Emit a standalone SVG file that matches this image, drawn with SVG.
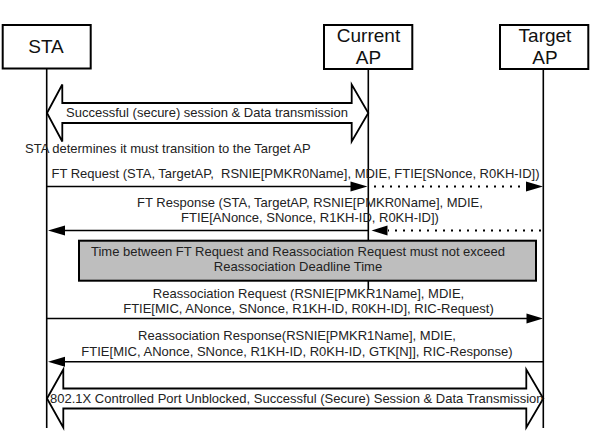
<svg xmlns="http://www.w3.org/2000/svg" width="593" height="446" viewBox="0 0 593 446">
<style>
.box{fill:#fff;stroke:#000;stroke-width:2}
.life{stroke:#000;stroke-width:1.6;fill:none}
.hdr{font-family:"Liberation Sans",Arial,sans-serif;font-size:19px;fill:#111;text-anchor:middle}
.lbl{font-family:"Liberation Sans",Arial,sans-serif;font-size:13px;fill:#222;text-anchor:middle;white-space:pre}
.msg{stroke:#000;stroke-width:1.6;fill:none}
.dot{stroke:#000;stroke-width:2;fill:none;stroke-dasharray:2 6}
.head{fill:#000;stroke:none}
.blk{fill:#fff;stroke:#000;stroke-width:1.8;stroke-linejoin:miter}
.note{fill:#bebebe;stroke:#000;stroke-width:2}
</style>
<defs>
<clipPath id="clipLow">
<polygon points="47,398.5 63.3,369.5 63.3,388.5 526.3,388.5 526.3,369.5 543.3,398.5 526.3,427.5 526.3,408.5 63.3,408.5 63.3,427.5"/>
</clipPath>
</defs>
<rect width="593" height="446" fill="#fff"/>

<g id="node-sta">
<line class="life" x1="46.7" y1="69" x2="46.7" y2="428"/>
<rect class="box" x="2.7" y="25" width="88" height="43.5"/>
<text class="hdr" x="46" y="52.5">STA</text>
</g>
<g id="node-current-ap">
<line class="life" x1="368.3" y1="69" x2="368.3" y2="289.5"/>
<rect class="box" x="324" y="25" width="88.3" height="44"/>
<text class="hdr" x="368.5" y="41.7">Current</text>
<text class="hdr" x="368.5" y="64.3">AP</text>
</g>
<g id="node-target-ap">
<line class="life" x1="543.3" y1="69" x2="543.3" y2="428"/>
<rect class="box" x="500" y="25" width="88.3" height="44"/>
<text class="hdr" x="545" y="41.7">Target</text>
<text class="hdr" x="545" y="64.3">AP</text>
</g>

<g id="connectors">
<!-- upper session block arrow -->
<polygon class="blk" points="47,113 62.3,84.5 62.3,103 351.7,103 351.7,84.5 368.3,113 351.7,141.5 351.7,123 62.3,123 62.3,141.5"/>
<text class="lbl" x="207" y="117">Successful (secure) session &amp; Data transmission</text>

<text class="lbl" x="25" y="153.3" style="text-anchor:start">STA determines it must transition to the Target AP</text>

<!-- FT Request -->
<text class="lbl" x="295.5" y="178.3">FT Request (STA, TargetAP,  RSNIE[PMKR0Name], MDIE, FTIE[SNonce, R0KH-ID])</text>
<line class="msg" x1="46.7" y1="186.5" x2="352" y2="186.5"/>
<polygon class="head" points="367.5,186.5 350.5,181.5 350.5,191.5"/>
<line class="dot" x1="374" y1="186.5" x2="526" y2="186.5"/>
<polygon class="head" points="543,186.5 526,181.5 526,191.5"/>

<!-- FT Response -->
<text class="lbl" x="310" y="207.2">FT Response (STA, TargetAP, RSNIE[PMKR0Name], MDIE,</text>
<text class="lbl" x="310" y="222">FTIE[ANonce, SNonce, R1KH-ID, R0KH-ID])</text>
<line class="dot" x1="541" y1="230.5" x2="388" y2="230.5"/>
<polygon class="head" points="371.5,230.5 387.5,225.5 387.5,235.5"/>
<line class="msg" x1="368.3" y1="230.5" x2="63" y2="230.5"/>
<polygon class="head" points="48,230.5 65,225.5 65,235.5"/>

<!-- Reassociation Request -->
<text class="lbl" x="308.5" y="298.3">Reassociation Request (RSNIE[PMKR1Name], MDIE,</text>
<text class="lbl" x="308.5" y="313.3">FTIE[MIC, ANonce, SNonce, R1KH-ID, R0KH-ID], RIC-Request)</text>
<line class="msg" x1="46.7" y1="318.5" x2="528" y2="318.5"/>
<polygon class="head" points="543,318.5 526.5,313.5 526.5,323.5"/>

<!-- Reassociation Response -->
<text class="lbl" x="297" y="340">Reassociation Response(RSNIE[PMKR1Name], MDIE,</text>
<text class="lbl" x="297" y="356">FTIE[MIC, ANonce, SNonce, R1KH-ID, R0KH-ID, GTK[N]], RIC-Response)</text>
<line class="msg" x1="543.3" y1="361.7" x2="63" y2="361.7"/>
<polygon class="head" points="48,361.7 65,356.7 65,366.7"/>

<!-- lower session block arrow -->
<polygon class="blk" points="47,398.5 63.3,369.5 63.3,388.5 526.3,388.5 526.3,369.5 543.3,398.5 526.3,427.5 526.3,408.5 63.3,408.5 63.3,427.5"/>
<text class="lbl" x="50" y="402.5" style="text-anchor:start" clip-path="url(#clipLow)">802.1X Controlled Port Unblocked, Successful (Secure) Session &amp; Data Transmission</text>
</g>

<g id="note-deadline">
<rect class="note" x="79" y="240.7" width="457" height="40"/>
<text class="lbl" x="298" y="256">Time between FT Request and Reassociation Request must not exceed</text>
<text class="lbl" x="298" y="271">Reassociation Deadline Time</text>
</g>
</svg>
